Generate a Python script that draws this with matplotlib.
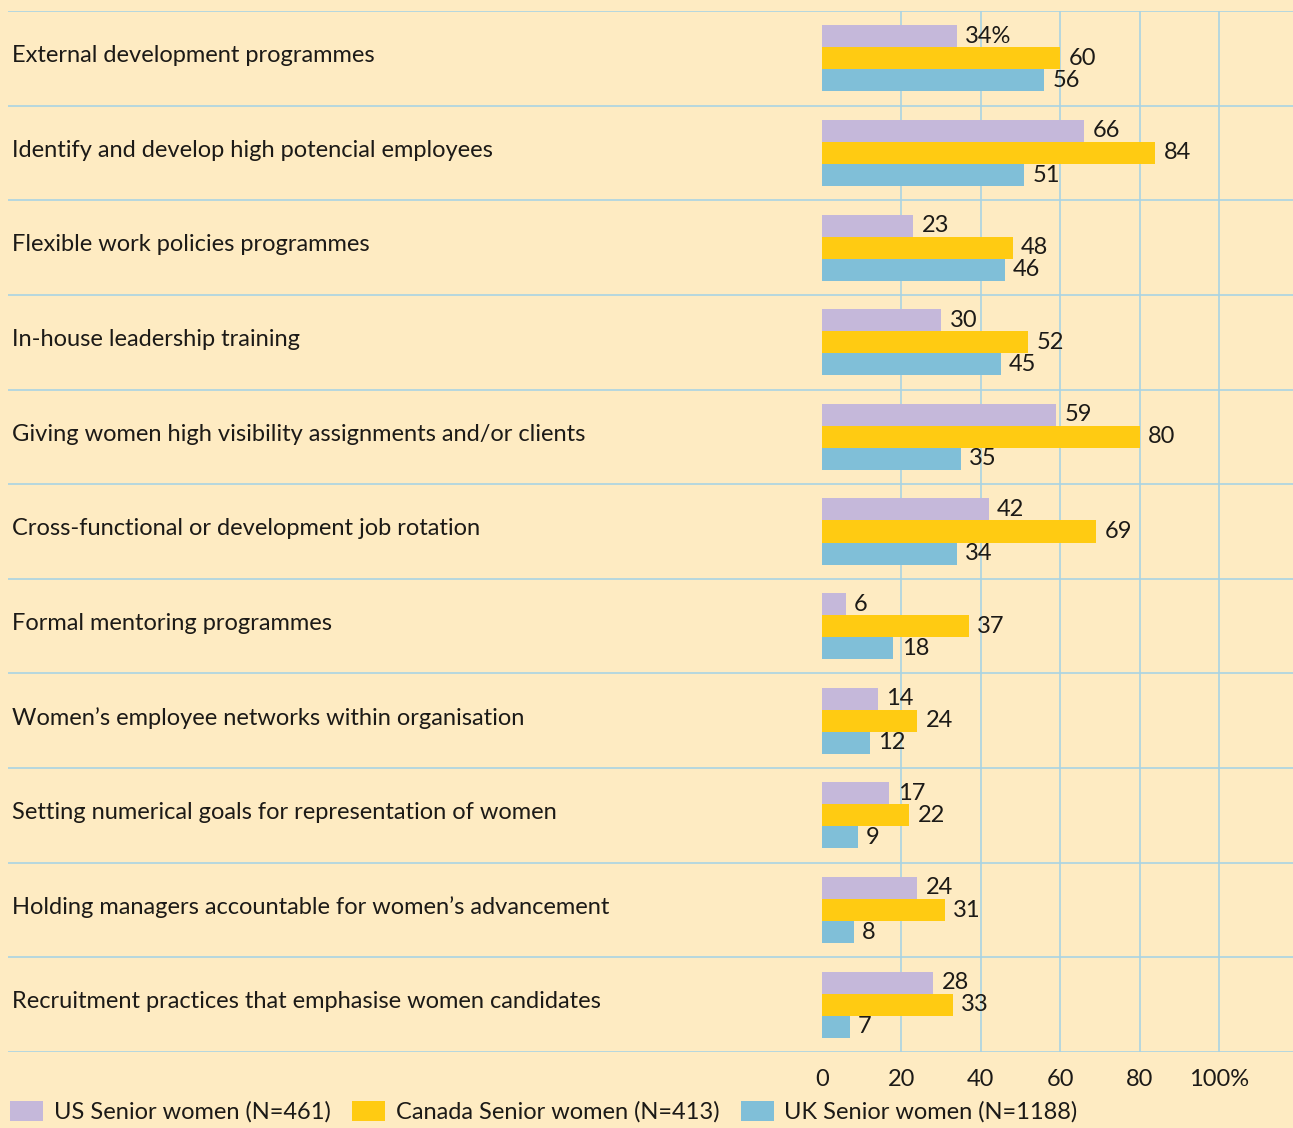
import matplotlib
matplotlib.use('Agg')
import numpy as np
from matplotlib import pyplot as plt
from matplotlib import font_manager
from matplotlib.patches import Patch

categories = ['External development programmes',
              'Identify and develop high potencial employees',
              'Flexible work policies programmes',
              'In-house leadership training',
              'Giving women high visibility assignments and/or clients',
              'Cross-functional or development job rotation',
              'Formal mentoring programmes',
              "Women\u2019s employee networks within organisation",
              'Setting numerical goals for representation of women',
              "Holding managers accountable for women\u2019s advancement",
              'Recruitment practices that emphasise women candidates']
us = [34, 66, 23, 30, 59, 42, 6, 14, 17, 24, 28]
canada = [60, 84, 48, 52, 80, 69, 37, 24, 22, 31, 33]
uk = [56, 51, 46, 45, 35, 34, 18, 12, 9, 8, 7]
series_names = ['US Senior women (N=461)', 'Canada Senior women (N=413)',
                'UK Senior women (N=1188)']
xticks = [0, 20, 40, 60, 80, 100]
xtick_labels = ['0', '20', '40', '60', '80', '100%']

bg = '#feebc2'
colors = ['#c5b8da', '#ffcb12', '#80bfd8']
line_col = '#a9d3e3'
txt_col = '#1c1a17'

# pick a font that is actually installed
names = {f.name for f in font_manager.fontManager.ttflist}
fam = next((f for f in ['Liberation Sans Narrow', 'Lato', 'DejaVu Sans'] if f in names))
plt.rcParams['font.family'] = [fam, 'DejaVu Sans']
fs = 17

W, H = 1293, 1128
fig = plt.figure(figsize=(W / 100, H / 100), dpi=100, facecolor=bg)
top_px, bot_px, left_px = 11, 1052, 8
ax = fig.add_axes([left_px / W, 1 - bot_px / H, 1 - left_px / W, (bot_px - top_px) / H])
ax.set_facecolor(bg)

px_per_unit = (1219 - 822) / 100.0
x0 = -(822 - left_px) / px_per_unit
x1 = (W - 822) / px_per_unit
n = len(categories)
ax.set_xlim(x0, x1)
ax.set_ylim(n, 0)

for s in ax.spines.values():
    s.set_visible(False)

# row separators and value gridlines
for b in range(n + 1):
    ax.axhline(b, color=line_col, lw=1.2, zorder=1)
ax.vlines(xticks[1:], 0, n, color=line_col, lw=1.2, zorder=1)

bh = 0.233
ypos = np.arange(n) + 0.5
for k, (vals, c) in enumerate(zip([us, canada, uk], colors)):
    yy = ypos + (k - 1) * bh
    ax.barh(yy, vals, height=bh, color=c, zorder=2)
    for i, v in enumerate(vals):
        lab = f'{v}%' if (k == 0 and i == 0) else str(v)
        ax.annotate(lab, (v, yy[i]), xytext=(6, 0), textcoords='offset points',
                    va='center', ha='left', fontsize=fs, color=txt_col, zorder=3)

for i, cat in enumerate(categories):
    ax.text(x0 + 4 / px_per_unit, ypos[i] - 0.03, cat, va='center', ha='left',
            fontsize=fs, color=txt_col)

ax.set_yticks([])
ax.set_xticks(xticks)
ax.set_xticklabels(xtick_labels, fontsize=fs, color=txt_col)
ax.tick_params(axis='x', length=0, pad=12)

handles = [Patch(facecolor=c, edgecolor='none') for c in colors]
fig.legend(handles, series_names, loc='center left',
           bbox_to_anchor=(0.008, 1 - 1112 / H),
           ncol=3, frameon=False, fontsize=fs, handlelength=1.4, handleheight=0.9,
           handletextpad=0.45, columnspacing=0.9, borderaxespad=0, borderpad=0,
           labelcolor=txt_col)

fig.savefig('out.png', dpi=100, facecolor=bg)
